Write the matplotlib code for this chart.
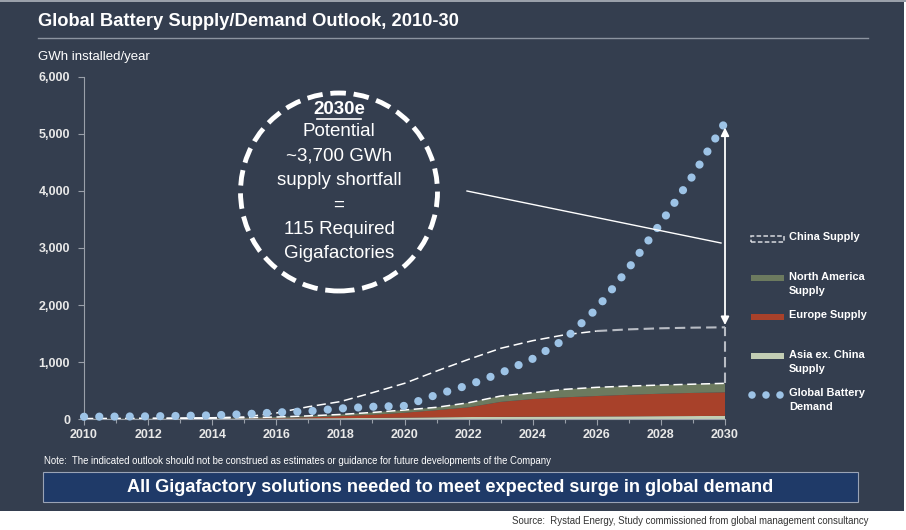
import matplotlib
matplotlib.use("Agg")
import matplotlib.pyplot as plt
from matplotlib.patches import Ellipse, Rectangle
from matplotlib.lines import Line2D
import numpy as np

# ---------------- data ----------------
years = list(range(2010, 2031))
asia_ex_china = [5, 6, 7, 8, 10, 12, 15, 18, 20, 25, 30, 35, 40, 42, 45, 48, 50, 52, 55, 57, 60]
europe = [1, 1, 1, 2, 2, 4, 7, 17, 35, 55, 85, 125, 170, 263, 310, 337, 358, 378, 393, 405, 413]
north_america = [4, 5, 6, 7, 8, 12, 18, 25, 30, 40, 48, 50, 80, 103, 111, 140, 152, 152, 152, 153, 157]
china = [2, 2, 3, 4, 7, 12, 70, 160, 225, 346, 467, 635, 760, 835, 911, 955, 986, 993, 994, 990, 981]
demand = [45, 48, 52, 60, 70, 90, 120, 140, 190, 220, 235, 430, 600, 810, 1060, 1400, 1940, 2650, 3440, 4270, 5200]
y_ticks = [0, 1000, 2000, 3000, 4000, 5000, 6000]
x_tick_labels = [2010, 2012, 2014, 2016, 2018, 2020, 2022, 2024, 2026, 2028, 2030]
legend_labels = ["China Supply", "North America\nSupply", "Europe Supply", "Asia ex. China\nSupply", "Global Battery\nDemand"]
callout_lines = ["Potential", "~3,700 GWh", "supply shortfall", "=", "115 Required", "Gigafactories"]

# ---------------- style ----------------
BG = "#343e4f"
C_ASIA = "#c2cdb4"
C_EU = "#a8412a"
C_NA = "#6c7a5f"
C_DEM = "#9dc3e6"
NARROW = ["Liberation Sans Narrow", "Liberation Sans", "DejaVu Sans"]
ARIAL = ["Liberation Sans", "DejaVu Sans"]

W, H = 906, 530
fig = plt.figure(figsize=(W / 100, H / 100), dpi=100)
fig.patch.set_facecolor("white")

def fx(px):
    return px / W

def fy(py):
    return 1 - py / H

# dark panel
fig.add_artist(Rectangle((0, fy(511)), fx(904), fy(1) - fy(511), transform=fig.transFigure,
                         facecolor=BG, edgecolor="none", zorder=0))
fig.add_artist(Rectangle((0, fy(2)), 1, fy(0) - fy(2), transform=fig.transFigure,
                         facecolor="#9aa0aa", edgecolor="none", zorder=0))

# title
fig.text(fx(38), fy(21), "Global Battery Supply/Demand Outlook, 2010-30", family=NARROW,
         fontsize=13.2, fontweight="bold", color="white", va="center", ha="left")
fig.add_artist(Line2D([fx(38), fx(868)], [fy(38), fy(38)], transform=fig.transFigure,
                      color="#8c94a0", lw=1))
fig.text(fx(38), fy(57), "GWh installed/year", family=NARROW, fontsize=9.5,
         color="white", va="center", ha="left")

# axes
x0, x1, y0, y1 = 84, 725, 419.3, 76.7
ax = fig.add_axes([fx(x0), fy(y0), fx(x1) - fx(x0), fy(y1) - fy(y0)])
ax.set_facecolor("none")
ax.set_xlim(2010, 2030)
ax.set_ylim(0, 6000)

yrs = np.array(years, dtype=float)
ax.stackplot(yrs, asia_ex_china, europe, north_america,
             colors=[C_ASIA, C_EU, C_NA], linewidth=0, zorder=2)
na_top = np.array(asia_ex_china) + np.array(europe) + np.array(north_america)
china_top = na_top + np.array(china)

# china supply region (outline only)
ax.plot(yrs, na_top, color="white", lw=1.1, ls=(0, (6, 3)), zorder=3)
ax.plot(yrs[:-4], china_top[:-4], color="white", lw=1.1, ls=(0, (6, 3)), zorder=3)
ax.plot(yrs[-5:], china_top[-5:], color="#b8bcc4", lw=1.5, ls=(0, (5, 2.5)), zorder=3)
ax.plot([2030, 2030], [na_top[-1], china_top[-1]], color="#b8bcc4", lw=1.5, ls=(0, (5, 2.5)),
        zorder=3, clip_on=False)

# demand dots
ax.plot(yrs, demand, color=C_DEM, lw=5.9, ls=(0, (0.01, 1.85)), dash_capstyle="round",
        zorder=4, clip_on=False)

# arrow shortfall
ax.annotate("", xy=(2030, china_top[-1] + 40), xytext=(2030, demand[-1] - 90),
            arrowprops=dict(arrowstyle="<|-|>", color="white", lw=1.3,
                            mutation_scale=12, shrinkA=0, shrinkB=0), zorder=5,
            annotation_clip=False)

# axes styling
for s in ["top", "right"]:
    ax.spines[s].set_visible(False)
for s in ["left", "bottom"]:
    ax.spines[s].set_color("#9aa0aa")
    ax.spines[s].set_linewidth(0.8)
ax.set_yticks(y_ticks)
ax.set_yticklabels([f"{v:,}" for v in y_ticks])
ax.set_xticks(x_tick_labels)
ax.set_xticklabels([str(v) for v in x_tick_labels])
ax.set_xticks(years, minor=True)
ax.tick_params(axis="both", colors="#9aa0aa", labelcolor="#e8e8e8", length=4, width=0.8,
               labelsize=9)
ax.tick_params(axis="x", which="minor", length=3, width=0.8, colors="#9aa0aa")
ax.tick_params(axis="y", pad=6)
ax.tick_params(axis="x", pad=3)
for lab in ax.get_xticklabels() + ax.get_yticklabels():
    lab.set_fontweight("bold")
    lab.set_family(ARIAL)

# callout circle
cx, cy = 339, 192
fig.add_artist(Ellipse((fx(cx), fy(cy)), fx(197), 198 / H, transform=fig.transFigure,
                       facecolor="none", edgecolor="white", lw=3.5, ls=(0, (3.2, 1.6)), zorder=6))
fig.text(fx(cx), fy(109), "2030e", family=ARIAL, fontsize=13.5, fontweight="bold",
         color="white", ha="center", va="center", zorder=7)
fig.add_artist(Line2D([fx(cx - 22), fx(cx + 22)], [fy(119), fy(119)], transform=fig.transFigure,
                      color="white", lw=1.2, zorder=7))
for i, t in enumerate(callout_lines):
    fig.text(fx(cx), fy(132 + 24.3 * i), t, family=ARIAL, fontsize=13.5, color="white",
             ha="center", va="center", zorder=7)
fig.add_artist(Line2D([fx(467), fx(721)], [fy(191), fy(243)], transform=fig.transFigure,
                      color="white", lw=1, zorder=6))

# legend (manual)
lx0, lx1, tx = 751, 784, 789
ly = [239, 278, 317, 356, 395]
fig.add_artist(Rectangle((fx(lx0), fy(ly[0] + 3)), fx(lx1) - fx(lx0), 6 / H, transform=fig.transFigure,
                         facecolor="none", edgecolor="#d8dadf", lw=1.1, ls=(0, (3, 1.5))))
for y, c in zip(ly[1:4], [C_NA, C_EU, C_ASIA]):
    fig.add_artist(Rectangle((fx(lx0), fy(y + 3)), fx(lx1) - fx(lx0), 6 / H,
                             transform=fig.transFigure, facecolor=c, edgecolor="none"))
for px in [752, 766, 780]:
    fig.add_artist(Ellipse((fx(px), fy(ly[4])), fx(7.5), 7.5 / H, transform=fig.transFigure,
                           facecolor=C_DEM, edgecolor="none"))
for y, t in zip(ly, legend_labels):
    fig.text(fx(tx), fy(y - 6.5), t, family=ARIAL, fontsize=7.9, fontweight="bold",
             color="white", ha="left", va="top", linespacing=1.5)

# note
fig.text(fx(44), fy(461), "Note:  The indicated outlook should not be construed as estimates or guidance for future developments of the Company",
         family=NARROW, fontsize=6.9, color="white", ha="left", va="center")

# banner
fig.add_artist(Rectangle((fx(43), fy(502)), fx(858) - fx(43), 30 / H, transform=fig.transFigure,
                         facecolor="#1f3a68", edgecolor="#9aa3b5", lw=0.8))
fig.text(fx(450), fy(487), "All Gigafactory solutions needed to meet expected surge in global demand",
         family=NARROW, fontsize=13.1, fontweight="bold", color="white", ha="center", va="center")

# source
fig.text(fx(868), fy(521), "Source:  Rystad Energy, Study commissioned from global management consultancy",
         family=NARROW, fontsize=6.9, color="#333333", ha="right", va="center")

fig.savefig("out.png", dpi=100, facecolor=fig.get_facecolor())
